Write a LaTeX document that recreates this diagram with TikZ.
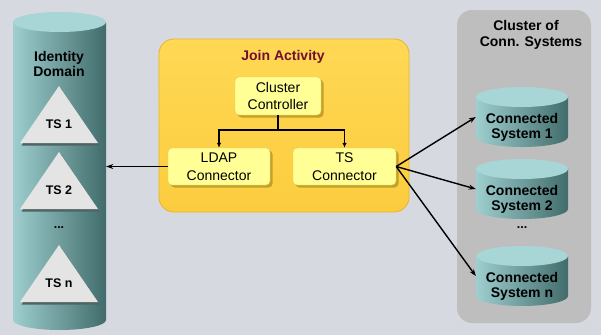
\documentclass[tikz,border=0pt]{standalone}
\usepackage{fontspec}
\setmainfont{Liberation Sans}
\usetikzlibrary{arrows.meta,positioning,shadows}
\definecolor{bggrey}{RGB}{214,218,224}
\definecolor{jointop}{RGB}{255,216,84}
\definecolor{joinbot}{RGB}{252,204,62}
\definecolor{joinedge}{RGB}{232,182,40}
\definecolor{joinred}{RGB}{110,16,48}
\definecolor{unitfill}{RGB}{255,255,150}
\definecolor{unitedge}{RGB}{225,205,110}
\definecolor{unitshadow}{RGB}{196,160,40}
\definecolor{clustergrey}{RGB}{190,190,190}
\definecolor{cylleft}{RGB}{158,206,206}
\definecolor{cylright}{RGB}{66,108,108}
\definecolor{cyltop}{RGB}{168,214,214}
\definecolor{trifill}{RGB}{228,228,228}
\definecolor{trishadow}{RGB}{80,100,100}

% drum: x1, x2, y of top ellipse, y of bottom ellipse, y radius
\newcommand{\drum}[5]{%
  \shade[left color=cylleft, right color=cylright]
    (#1,#3) -- (#1,#4) arc[start angle=180, end angle=0, x radius={(#2-#1)/2}, y radius=#5] -- (#2,#3) -- cycle;
  \fill[cyltop] ({(#1+#2)/2},#3) ellipse[x radius={(#2-#1)/2}, y radius=#5];
}

\begin{document}
\begin{tikzpicture}[x=1pt, y=-1pt,
        joinbox/.style={draw=joinedge, line width=0.8pt, top color=jointop, bottom color=joinbot, rounded corners=15pt},
        clusterbox/.style={fill=clustergrey, rounded corners=15pt},
        unit/.style={draw=unitedge, fill=unitfill, rounded corners=4pt, align=center, inner sep=0pt,
          font=\fontsize{14}{17.5}\selectfont,
          drop shadow={shadow xshift=2.5pt, shadow yshift=-2.5pt, fill=unitshadow, opacity=1}},
        title/.style={align=center, font=\bfseries\fontsize{14}{15.5}\selectfont},
        system/.style={align=center, inner sep=0pt, minimum width=92pt, minimum height=40pt,
          font=\bfseries\fontsize{14}{15}\selectfont},
        tslabel/.style={font=\bfseries\fontsize{12.5}{14}\selectfont},
        tree/.style={-{Latex[length=5pt,width=4.5pt]}, line width=1.6pt},
        link/.style={-{Stealth[length=7pt,width=5pt]}, line width=1.4pt}
      ]
      \fill[bggrey] (0,0) rectangle (601,335);
      \useasboundingbox (0,0) rectangle (601,335);

      % identity domain
      \drum{13}{106}{22}{320}{10}
      \node[inner sep=0pt, minimum width=93pt, minimum height=298pt] (idm) at (59.5,171) {};
      \node[title] (idmtitle) at (59,64) {Identity\\Domain};
      \foreach \apex/\lab/\nm in {86/TS 1/ts1, 152/TS 2/ts2, 245/TS n/tsn} {
        \fill[trishadow] (60.5,\apex+2) -- (99.5,\apex+59.5) -- (21.5,\apex+59.5) -- cycle;
        \fill[trifill] (59,\apex) -- (98,\apex+57) -- (20,\apex+57) -- cycle;
        \node[tslabel] (\nm) at (59,\apex+38) {\lab};
      }
      \node[tslabel] (tsdots) at (59,228) {...};

      % join activity
      \node[joinbox, minimum width=250pt, minimum height=173pt] (join) at (284,125.5) {};
      \node[title, text=joinred] (jointitle) at (283,57) {Join Activity};
      \node[unit, minimum width=86pt, minimum height=38pt] (cc) at (278,96) {Cluster\\Controller};
      \node[unit, minimum width=102pt, minimum height=37pt] (ldap) at (219,166.5) {LDAP\\Connector};
      \node[unit, minimum width=103pt, minimum height=37pt] (ts) at (344.5,166.5) {TS\\Connector};
      \coordinate (fork) at ([yshift=-15pt]cc.south);
      \draw[tree] (cc.south) -- (fork) -| (ldap.north);
      \draw[tree] (fork) -| (ts.north);

      % connected systems
      \node[clusterbox, minimum width=134pt, minimum height=313pt] (cluster) at (524,166.5) {};
      \node[title] (clustertitle) at (526,35) {Cluster of\\\hspace*{10pt}Conn. Systems};
      \foreach \nm/\yt/\lab in {cs1/97/1, cs2/169/2, csn/256/n} {
        \drum{476}{568}{\yt}{\yt+40}{10}
        \node[system] (\nm) at (522,\yt+30) {Connected\\System \lab};
      }
      \node[tslabel] (csdots) at (522,228) {...};

      \draw[link, line width=1.1pt] (ldap.west) -- (ldap.west -| idm.east);
      \foreach \nm in {cs1,cs2,csn}
        \draw[link] (ts.east) -- ([yshift=10pt]\nm.west);
    \end{tikzpicture}
\end{document}
